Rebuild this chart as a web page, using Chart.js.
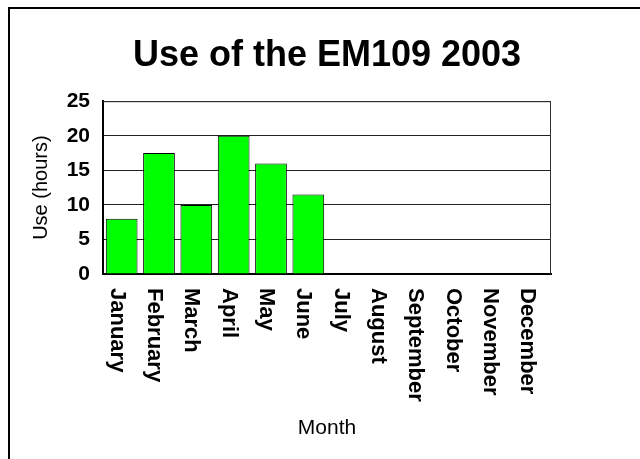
<!DOCTYPE html>
<html>
<head>
<meta charset="utf-8">
<script src="https://cdn.jsdelivr.net/npm/chart.js@4.4.0/dist/chart.umd.min.js"></script>
<style>
  body { margin: 0; background: #fff; }
  canvas { display: block; }
</style>
</head>
<body>
<canvas id="chart" width="640" height="459"></canvas>
<script>
const months = ['January', 'February', 'March', 'April', 'May', 'June',
                'July', 'August', 'September', 'October', 'November', 'December'];
const hours = [8, 17.5, 10, 20, 16, 11.5, null, null, null, null, null, null];
const yMin = 0, yMax = 25, yStep = 5;

const font = '"Liberation Sans", Arial, sans-serif';

// outer frame, plot box and the top-to-bottom month labels
const frame = {
    id: 'frame',
    beforeDraw(chart) {
        const ctx = chart.ctx;
        ctx.save();
        ctx.fillStyle = '#fff';
        ctx.fillRect(0, 0, chart.width, chart.height);
        ctx.strokeStyle = '#000';
        ctx.lineWidth = 2;
        ctx.beginPath();
        ctx.moveTo(9, chart.height);
        ctx.lineTo(9, 8);
        ctx.lineTo(chart.width, 8);
        ctx.stroke();
        ctx.restore();
    },
    afterDraw(chart) {
        const ctx = chart.ctx;
        const a = chart.chartArea;
        const x = chart.scales.x;
        ctx.save();
        ctx.strokeStyle = '#333';
        ctx.lineWidth = 1;
        ctx.beginPath();
        ctx.moveTo(a.left, a.top + 0.5);
        ctx.lineTo(a.right - 0.5, a.top + 0.5);
        ctx.lineTo(a.right - 0.5, a.bottom);
        ctx.stroke();

        ctx.font = 'bold 22px ' + font;
        ctx.fillStyle = '#000';
        ctx.textAlign = 'left';
        ctx.textBaseline = 'middle';
        for (let i = 0; i < months.length; i++) {
            ctx.save();
            ctx.translate(x.getPixelForTick(i) - 5, a.bottom + 14);
            ctx.rotate(Math.PI / 2);
            ctx.fillText(months[i], 0, 0);
            ctx.restore();
        }
        ctx.restore();
    }
};

new Chart('chart', {
    type: 'bar',
    data: {
        labels: months,
        datasets: [{
            data: hours,
            backgroundColor: '#00ff00',
            borderColor: '#000',
            borderWidth: 1,
            barPercentage: 0.85,
            categoryPercentage: 1
        }]
    },
    options: {
        responsive: false,
        animation: false,
        layout: { padding: { left: 14, right: 0, top: 0, bottom: 0 } },
        plugins: {
            legend: { display: false },
            tooltip: { enabled: false },
            title: {
                display: true,
                text: 'Use of the EM109 2003',
                color: '#000',
                font: { family: font, size: 36, weight: 'bold' },
                padding: { top: 34, bottom: 24 }
            }
        },
        scales: {
            x: {
                grid: { display: false },
                border: { display: true, color: '#000', width: 2 },
                ticks: { display: false },
                title: {
                    display: true,
                    text: 'Month',
                    color: '#000',
                    font: { family: font, size: 21 },
                    padding: { top: 0, bottom: 18 }
                },
                afterFit(s) { s.height = 185; }
            },
            y: {
                min: yMin,
                max: yMax,
                grid: { color: '#222', lineWidth: 1, drawTicks: false },
                border: { display: true, color: '#000', width: 2 },
                ticks: {
                    stepSize: yStep,
                    padding: 13,
                    color: '#000',
                    font: { family: font, size: 21, weight: 'bold' }
                },
                title: {
                    display: true,
                    text: 'Use (hours)',
                    color: '#000',
                    font: { family: font, size: 20 },
                    padding: { top: 15, bottom: 0 }
                },
                afterFit(s) { s.width = 89; }
            },
            // empty right margin so the title centres on the whole page
            spacer: {
                type: 'linear',
                position: 'right',
                grid: { display: false },
                border: { display: false },
                ticks: { display: false },
                afterFit(s) { s.width = 89; }
            }
        }
    },
    plugins: [frame]
});
</script>
</body>
</html>
